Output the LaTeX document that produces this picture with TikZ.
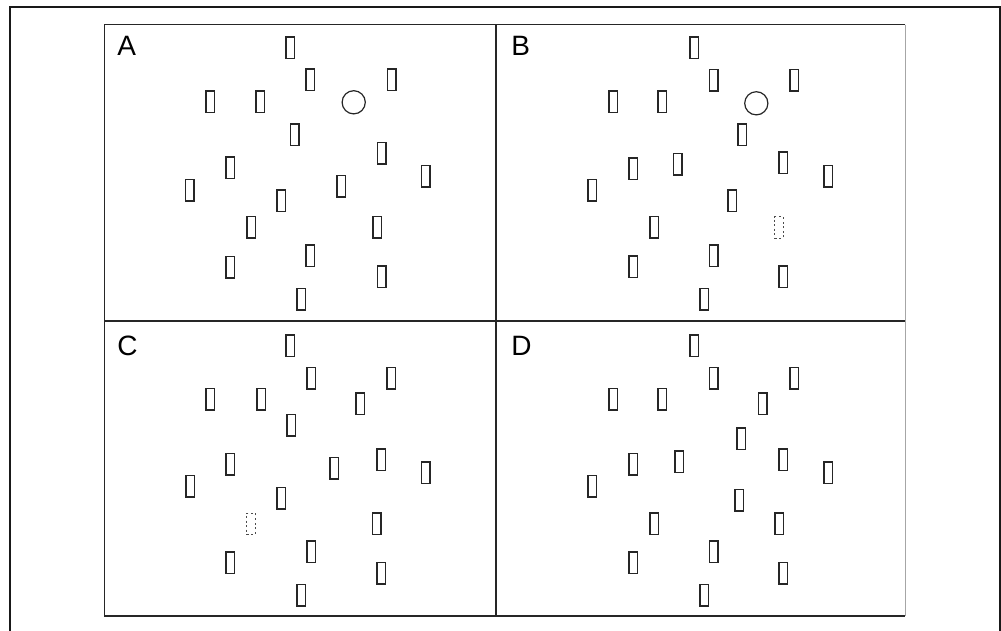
\documentclass[tikz,border=0pt]{standalone}
\usepackage{fontspec}
\setmainfont{Liberation Sans}
\usetikzlibrary{positioning}

\begin{document}
\begin{tikzpicture}[
  x=0.5pt, y=-0.5pt,
  every node/.style={font=\fontsize{14}{16}\selectfont},
  % one search item (bar) and the target (ring)
  item/.style={draw=black!85, line width=0.7pt, minimum width=4.2pt, minimum height=10.8pt, inner sep=0pt},
  gone/.style={draw=black!70, line width=0.35pt, dash pattern=on 1pt off 1.3pt, minimum width=4.2pt, minimum height=10.8pt, inner sep=0pt},
  target/.style={draw=black!85, line width=0.6pt, circle, minimum size=11.6pt, inner sep=0pt},
  panel/.style={draw=black!85, line width=0.8pt},
  tag/.style={anchor=base west, inner sep=0pt}
]
\useasboundingbox (0,0) rectangle (1001,631);

% outer frame (open at the bottom)
\draw[line width=1pt, black!90] (10,632) -- (10,7) -- (1000,7) -- (1000,632);

% four panels
\draw[panel] (905,24.7) -- (104.3,24.7) -- (104.3,615.7) -- (905,615.7);
\draw[panel] (496,24.7) -- (496,615.7);
\draw[panel] (104.3,320.7) -- (905,320.7);
\draw[draw=black!35, line width=0.5pt] (905,24.7) -- (905,615.7);

% panel letters
\node[tag] (labA) at (117,55.5) {A};
\node[tag] (labB) at (511,55.5) {B};
\node[tag] (labC) at (117,355.7) {C};
\node[tag] (labD) at (511,355.7) {D};

% panel A
\foreach \px/\py [count=\i] in {290.3/47.7, 310/80, 391.7/80, 210.3/102, 260.3/102, 294.7/135,
  381.7/153.3, 230/167.7, 425.7/176.3, 189.7/190.3, 341/186.3, 281/200.7, 251.3/227.3,
  377.3/227.3, 310/255.7, 230/267, 381.7/276.7, 301/299}
  \node[item] (a\i) at (\px,\py) {};
\node[target] (ringA) at (353.7,102.3) {};

% panel B
\foreach \px/\py [count=\i] in {694.3/47.7, 713.7/80.3, 794/80.3, 613.3/102, 662.3/102, 742.3/135,
  783/162.7, 633.3/168.7, 677.7/164.3, 828.3/176.3, 592/190, 732/200.7, 654.3/227.3,
  713.7/255.7, 633.3/266.7, 783/276.7, 704/299}
  \node[item] (b\i) at (\px,\py) {};
\node[gone] (gapB) at (779,227.3) {};
\node[target] (ringB) at (756.3,103.3) {};

% panel C
\foreach \px/\py [count=\i] in {290.3/345.7, 311/378, 391.3/378, 210.3/399.3, 261/399.3, 360/403.7,
  291.3/425.3, 381/459.7, 230/464, 334.3/468.3, 425.7/472.7, 190.3/486.3, 281/498,
  376.7/523.7, 311.3/551.7, 230/562.7, 381/573.3, 301/595.3}
  \node[item] (c\i) at (\px,\py) {};
\node[gone] (gapC) at (251,523.7) {};

% panel D
\foreach \px/\py [count=\i] in {694.3/345.7, 713.7/378, 794/378, 613.3/399.3, 662.3/399.3, 762.7/403.7,
  741/438.7, 783/459.7, 633.3/464, 679.3/461.7, 828.3/472.7, 592/486.3, 739.3/500.3,
  654.3/523.7, 779/523.7, 713.7/551.7, 633.3/562.7, 783/573.3, 704/595.3}
  \node[item] (d\i) at (\px,\py) {};

\end{tikzpicture}
\end{document}
